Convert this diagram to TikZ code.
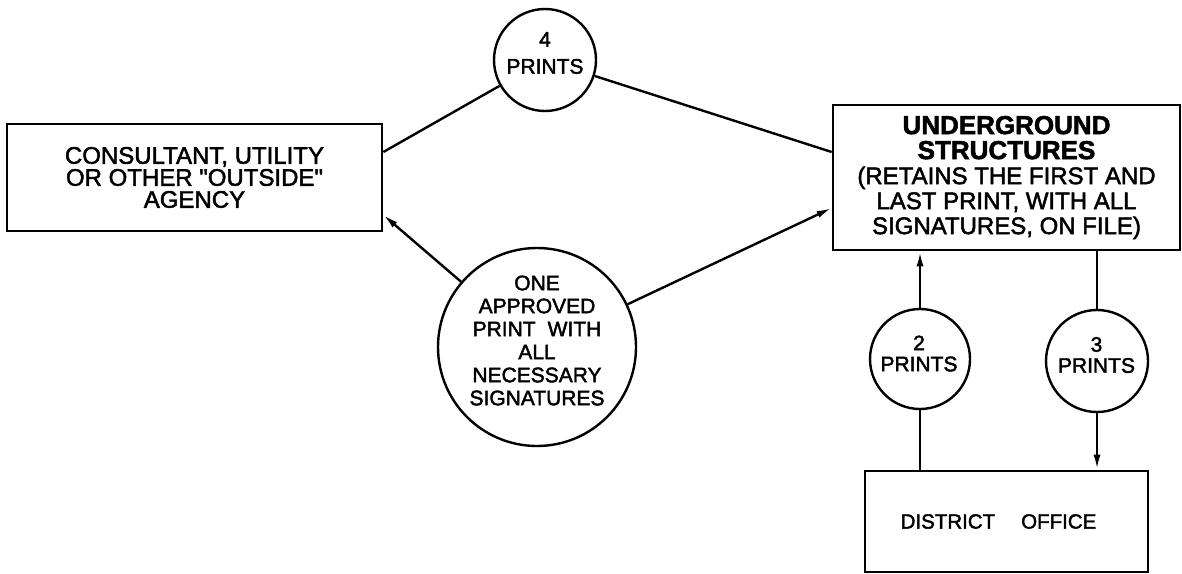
\documentclass[tikz,border=0pt]{standalone}
\usepackage{fontspec}
\setmainfont{Liberation Sans}[Ligatures=TeXOff]
\usetikzlibrary{arrows.meta}
\newcommand{\heavy}{\addfontfeature{FakeBold=2}}
\begin{document}
\begin{tikzpicture}[x=1pt,y=-1pt,
  box/.style={draw, line width=2.7pt, rectangle, inner sep=0pt, align=center},
  disc/.style={draw, line width=2.4pt, circle, inner sep=0pt},
  lbl/.style={align=center, inner sep=0pt, font=\fontsize{21}{21}\selectfont\heavy},
  conn/.style={line width=2.4pt},
  arr/.style={conn, -{Latex[length=15pt,width=7pt]}}]
\useasboundingbox (0,0) rectangle (1182,573);
\fill[white] (0,0) rectangle (1182,573);

% offices
\node[box, minimum width=375pt, minimum height=107pt,
      font=\fontsize{24}{22}\selectfont\heavy] (agency) at (194.5,177.5)
  {CONSULTANT, UTILITY\\OR OTHER "OUTSIDE"\\AGENCY};
\node[box, minimum width=347pt, minimum height=145pt,
      font=\fontsize{24}{25}\selectfont\heavy] (ugs) at (1006.5,177.5)
  {{\bfseries\fontsize{26}{25}\selectfont UNDERGROUND}\\
   {\bfseries\fontsize{26}{25}\selectfont STRUCTURES}\\
   (RETAINS THE FIRST AND\\LAST PRINT, WITH ALL\\SIGNATURES, ON FILE)};
\node[box, minimum width=283pt, minimum height=101pt,
      font=\fontsize{20.5}{20}\selectfont\heavy] (dist) at (1006.5,521.5)
  {DISTRICT\hspace{26pt}OFFICE\hspace{16pt}};

% print bubbles
\node[disc, minimum size=102pt] (c4) at (545,60) {};
\node[lbl, font=\fontsize{21}{27}\selectfont\heavy] (c4t) at (545,53) {4\\PRINTS};
\node[disc, minimum size=198pt] (one) at (537,347) {};
\node[lbl, font=\fontsize{21}{23}\selectfont\heavy] (onet) at (537,340.5)
  {ONE\\APPROVED\\PRINT\hspace{12pt}WITH\\ALL\\NECESSARY\\SIGNATURES};
\node[disc, minimum size=100pt] (c2) at (920,359) {};
\node[lbl] (c2t) at (919,353.5) {2\\PRINTS};
\node[disc, minimum size=102pt] (c3) at (1097,361) {};
\node[lbl] (c3t) at (1096.5,355) {3\\PRINTS};

% flows
\draw[conn] ([yshift=25.5pt]agency.east) -- (c4);
\draw[conn] (c4) -- ([yshift=25.5pt]ugs.west);
\draw[arr] (one) -- ([yshift=-37.5pt]agency.east);
\draw[arr] (one) -- ([yshift=-30.5pt]ugs.west);
\draw[arr] (c2) -- (c2 |- ugs.south);
\draw[conn] (dist.north -| c2) -- (c2);
\draw[conn] (ugs.south -| c3) -- (c3);
\draw[arr] (c3) -- (c3 |- dist.north);
\end{tikzpicture}
\end{document}
